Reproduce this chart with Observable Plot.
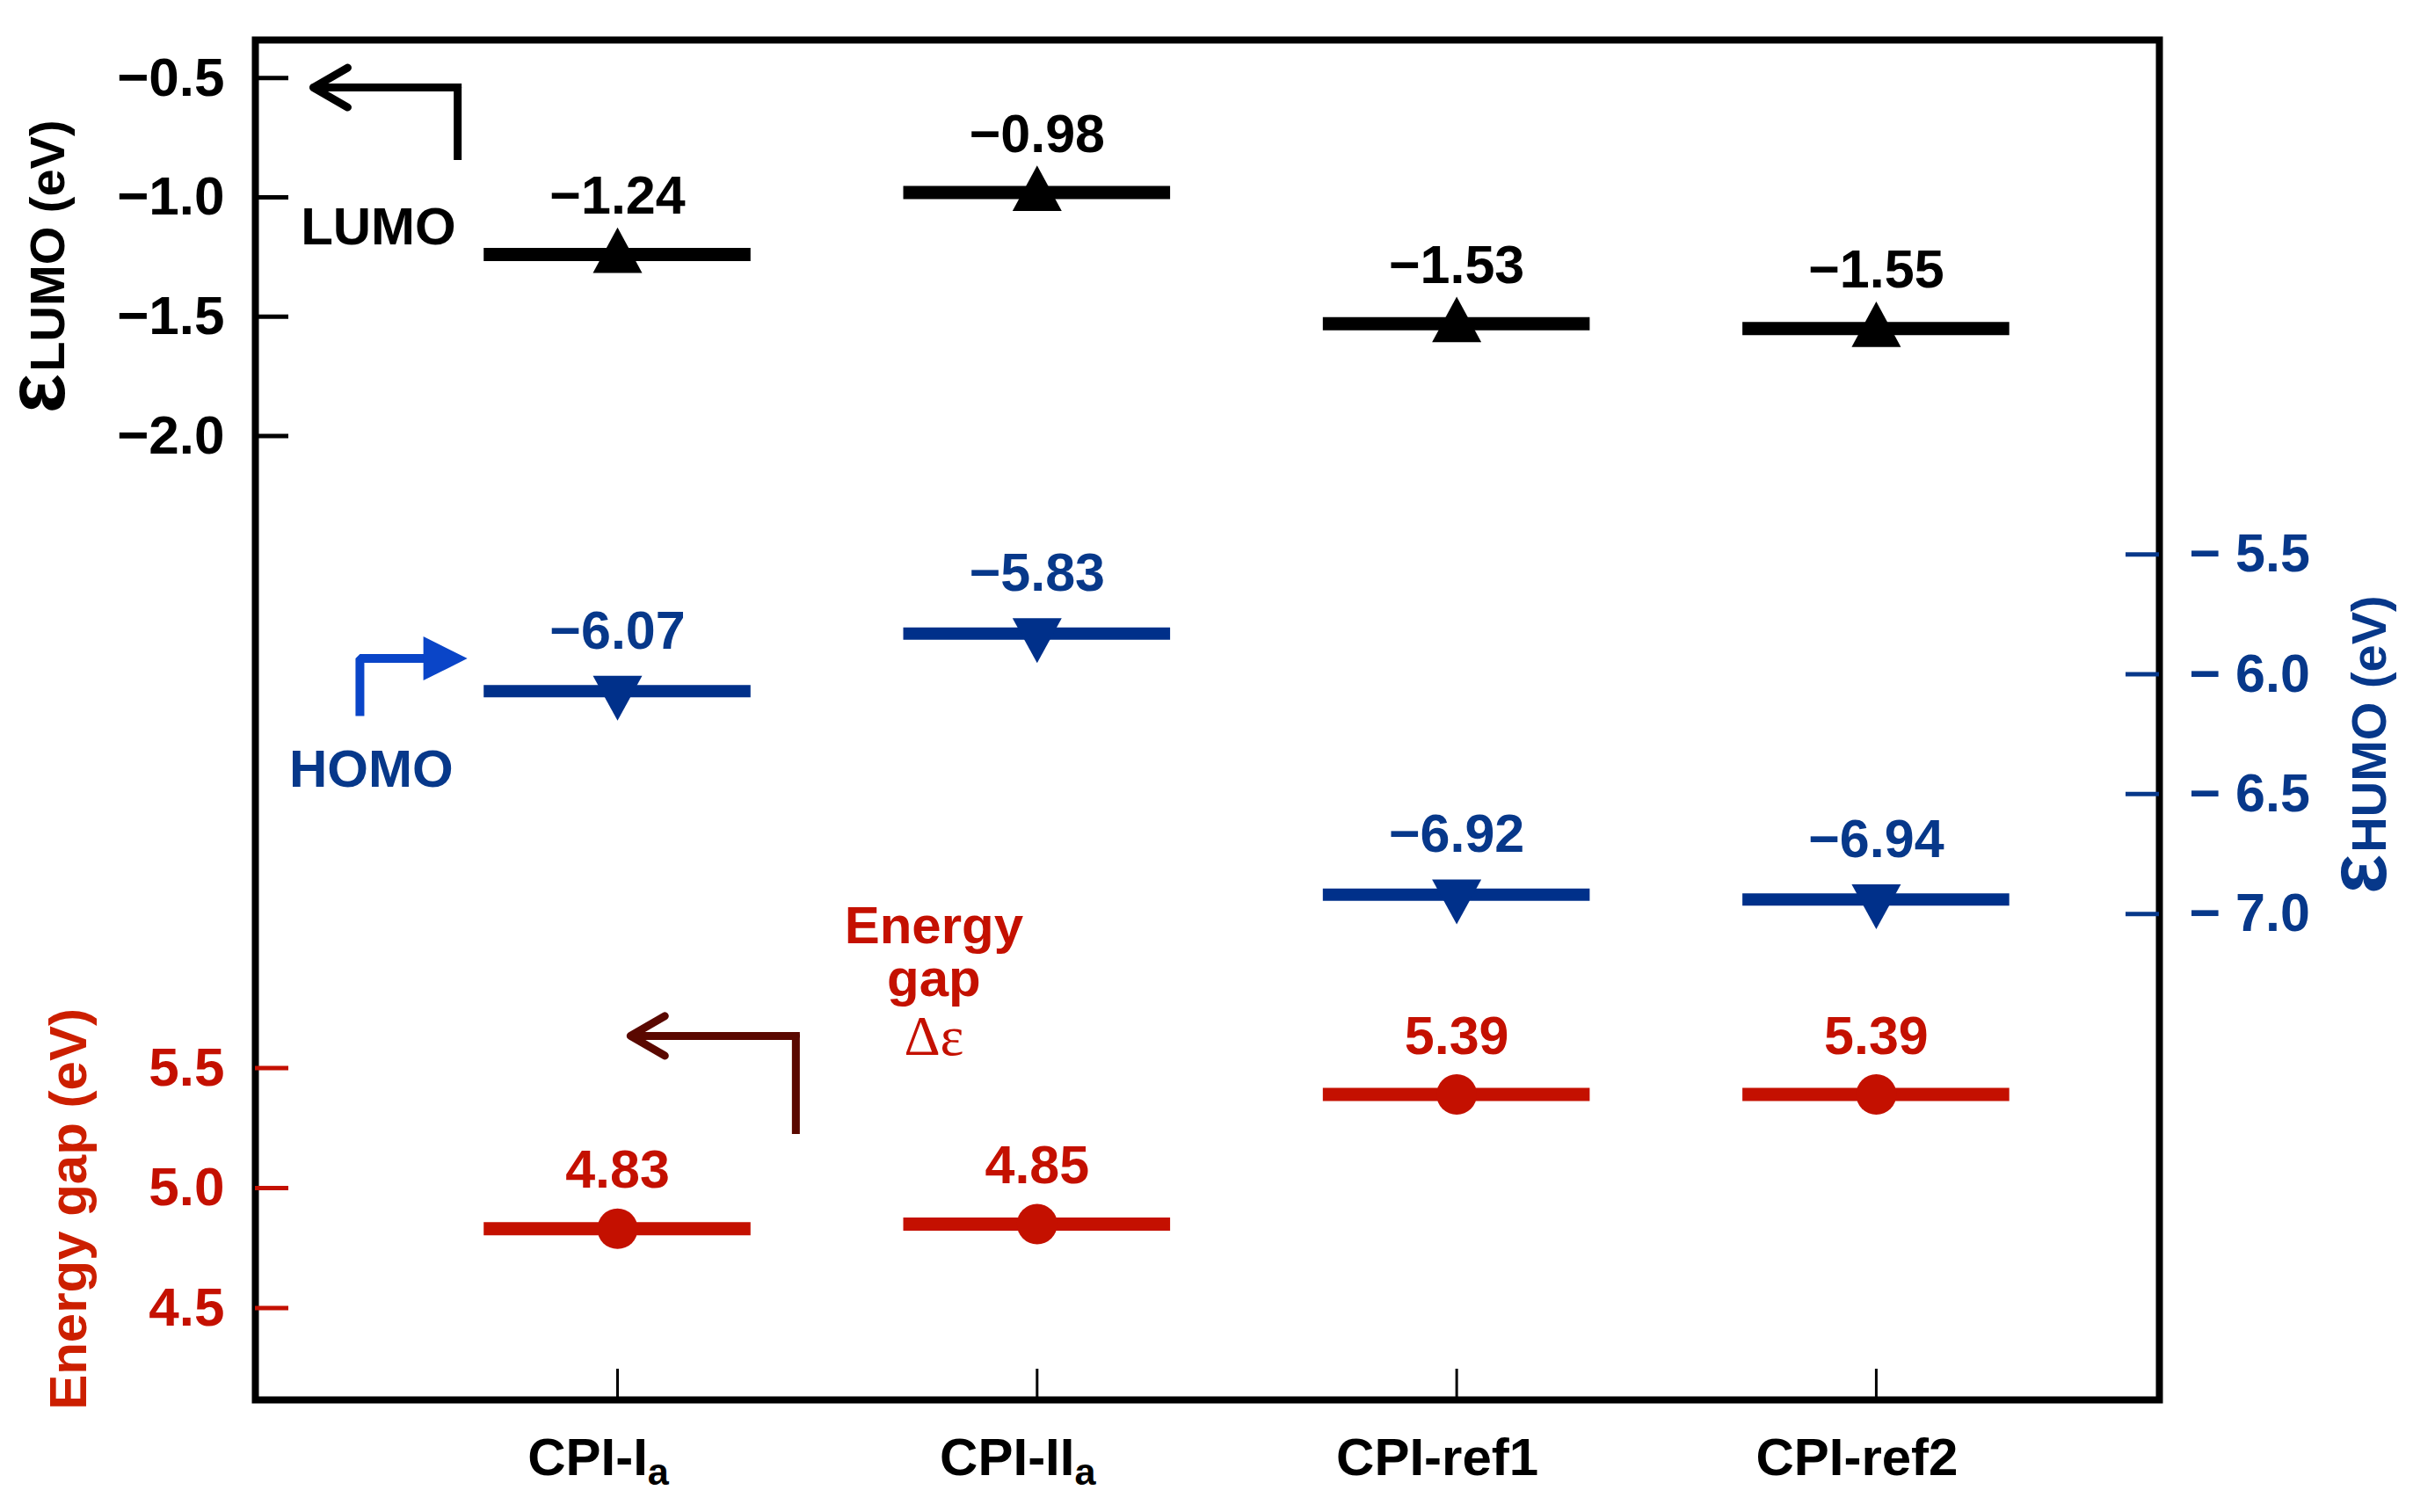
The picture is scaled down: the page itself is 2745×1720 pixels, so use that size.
<!DOCTYPE html>
<html><head><meta charset="utf-8">
<script src="https://cdn.jsdelivr.net/npm/d3@7"></script>
<script src="https://cdn.jsdelivr.net/npm/@observablehq/plot@0.6"></script>
<style>
html,body{margin:0;padding:0;background:#fff;}
#chart{position:relative;width:2745px;height:1720px;}
#chart svg{position:absolute;left:0;top:0;background:transparent;overflow:visible;}
</style></head><body><div id="chart"></div>
<script>
// ---- data ----
const categories = ["CPI-I_a", "CPI-II_a", "CPI-ref1", "CPI-ref2"];
const lumo = [-1.24, -0.98, -1.53, -1.55];
const homo = [-6.07, -5.83, -6.92, -6.94];
const gap = [4.83, 4.85, 5.39, 5.39];
const lumoTicks = [-0.5, -1.0, -1.5, -2.0];
const homoTicks = [-5.5, -6.0, -6.5, -7.0];
const gapTicks = [4.5, 5.0, 5.5];

// ---- build ----
const idx = categories.map((_, i) => i);
const rows = categories.map((c, i) => ({i, c, lumo: lumo[i], homo: homo[i], gap: gap[i]}));
const minus = s => s.replace("-", "\u2212");

const BLACK = "#000", BLUE = "#00308a", BLUE_T = "#07388a", BLUE_ARROW = "#0a45c8";
const RED = "#c41000", RED_T = "#cc1f00", RED_ARROW = "#5a0800";
const HALF = 0.318;
const FONT = "'Liberation Sans', Arial, Helvetica, sans-serif";

const triUp = {draw(ctx, size) {const r = Math.sqrt(size / Math.PI);
  ctx.moveTo(0, -1.1 * r); ctx.lineTo(r, 0.75 * r); ctx.lineTo(-r, 0.75 * r); ctx.closePath();}};
const triDown = {draw(ctx, size) {const r = Math.sqrt(size / Math.PI);
  ctx.moveTo(0, 1.2 * r); ctx.lineTo(r, -0.62 * r); ctx.lineTo(-r, -0.62 * r); ctx.closePath();}};
const triRight = {draw(ctx, size) {const r = Math.sqrt(size / Math.PI);
  ctx.moveTo(0, 0); ctx.lineTo(-2 * r, -r); ctx.lineTo(-2 * r, r); ctx.closePath();}};

const common = {
  width: 2745, height: 1720,
  marginLeft: 290, marginRight: 289, marginTop: 45, marginBottom: 128,
  style: {background: "transparent", fontFamily: FONT, fontWeight: "bold", overflow: "visible"}
};
const xScale = {domain: [-0.8632, 3.6748], axis: null};

// LUMO layer (with frame and category axis)
const lumoPlot = Plot.plot({
  ...common,
  x: xScale,
  y: {domain: [-6.039, -0.341], axis: null},
  marks: [
    Plot.frame({stroke: BLACK, strokeWidth: 8}),
    Plot.ruleY(lumoTicks, {stroke: BLACK, strokeWidth: 5, insetRight: 2128}),
    Plot.axisY({ticks: lumoTicks, tickSize: 0, tickPadding: 35, tickFormat: d => minus(d.toFixed(1)),
      fontSize: 62, fill: BLACK, label: null}),
    Plot.ruleX(idx, {stroke: BLACK, strokeWidth: 3, insetTop: 1512}),
    Plot.axisX({ticks: idx, tickSize: 0, tickPadding: 43, tickFormat: i => categories[i],
      fontSize: 60, fill: BLACK, label: null, dx: -22}),
    Plot.ruleY(rows, {y: "lumo", x1: d => d.i - HALF, x2: d => d.i + HALF, stroke: BLACK, strokeWidth: 15}),
    Plot.dot(rows, {x: "i", y: "lumo", symbol: triUp, r: 28, fill: BLACK, stroke: null}),
    Plot.text(rows, {x: "i", y: "lumo", text: d => minus(d.lumo.toFixed(2)), dy: -66, fontSize: 61, fill: BLACK}),
    // annotation: LUMO arrow + label
    Plot.line([[-0.381, -0.827], [-0.381, -0.54]], {x: d => d[0], y: d => d[1], stroke: BLACK, strokeWidth: 9, strokeLinecap: "square"}),
    Plot.arrow([0], {x1: -0.381, y1: -0.54, x2: -0.725, y2: -0.54, stroke: BLACK, strokeWidth: 9,
      headLength: 7.5, headAngle: 60, strokeLinecap: "round", strokeLinejoin: "round"}),
    Plot.text(["LUMO"], {x: -0.57, y: -1.126, fontSize: 60, fill: BLACK}),
    // axis title
    Plot.text(["ε"], {frameAnchor: "left", y: -1.822, dx: -218, rotate: -90, textAnchor: "middle", lineAnchor: "bottom", fontSize: 95, fill: BLACK}),
    Plot.text(["LUMO (eV)"], {frameAnchor: "left", y: -1.203, dx: -218, rotate: -90, textAnchor: "middle", lineAnchor: "bottom", fontSize: 56, fill: BLACK})
  ]
});

// HOMO layer (right axis)
const homoPlot = Plot.plot({
  ...common,
  x: xScale,
  y: {domain: [-9.028, -3.353], axis: null},
  marks: [
    Plot.ruleY(homoTicks, {stroke: BLUE_T, strokeWidth: 5, insetLeft: 2128}),
    Plot.axisY({anchor: "right", ticks: homoTicks, tickSize: 0, tickPadding: 34,
      tickFormat: d => "\u2212 " + Math.abs(d).toFixed(1), fontSize: 61, fill: BLUE_T, label: null}),
    Plot.ruleY(rows, {y: "homo", x1: d => d.i - HALF, x2: d => d.i + HALF, stroke: BLUE, strokeWidth: 14}),
    Plot.dot(rows, {x: "i", y: "homo", symbol: triDown, r: 28, fill: BLUE, stroke: null}),
    Plot.text(rows, {x: "i", y: "homo", text: d => minus(d.homo.toFixed(2)), dy: -68, fontSize: 61, fill: BLUE_T}),
    // annotation: HOMO arrow + label
    Plot.line([[-0.614, -6.174], [-0.614, -5.934], [-0.44, -5.934]], {x: d => d[0], y: d => d[1],
      stroke: BLUE_ARROW, strokeWidth: 10, strokeLinejoin: "miter", strokeLinecap: "butt"}),
    Plot.dot([0], {x: -0.358, y: -5.934, symbol: triRight, r: 25, fill: BLUE_ARROW, stroke: null}),
    Plot.text(["HOMO"], {x: -0.587, y: -6.40, fontSize: 60, fill: BLUE_T}),
    // axis title
    Plot.text(["ε"], {frameAnchor: "right", y: -6.834, dx: 257, rotate: -90, textAnchor: "middle", lineAnchor: "bottom", fontSize: 95, fill: BLUE_T}),
    Plot.text(["HUMO (eV)"], {frameAnchor: "right", y: -6.207, dx: 257, rotate: -90, textAnchor: "middle", lineAnchor: "bottom", fontSize: 56, fill: BLUE_T})
  ]
});

// Energy gap layer (lower-left axis)
const gapPlot = Plot.plot({
  ...common,
  x: xScale,
  y: {domain: [4.117, 9.784], axis: null},
  marks: [
    Plot.ruleY(gapTicks, {stroke: RED, strokeWidth: 5, insetRight: 2128}),
    Plot.axisY({ticks: gapTicks, tickSize: 0, tickPadding: 35, tickFormat: d => d.toFixed(1),
      fontSize: 62, fill: RED, label: null}),
    Plot.ruleY(rows, {y: "gap", x1: d => d.i - HALF, x2: d => d.i + HALF, stroke: RED, strokeWidth: 15}),
    Plot.dot(rows, {x: "i", y: "gap", r: 23, fill: RED, stroke: null}),
    Plot.text(rows, {x: "i", y: "gap", text: d => d.gap.toFixed(2), dy: -66, fontSize: 61, fill: RED}),
    // annotation: gap arrow + label
    Plot.line([[0.425, 5.242], [0.425, 5.634]], {x: d => d[0], y: d => d[1], stroke: RED_ARROW, strokeWidth: 9, strokeLinecap: "square"}),
    Plot.arrow([0], {x1: 0.425, y1: 5.634, x2: 0.031, y2: 5.634, stroke: RED_ARROW, strokeWidth: 9,
      headLength: 7.5, headAngle: 60, strokeLinecap: "round", strokeLinejoin: "round"}),
    Plot.text(["Energy\ngap"], {x: 0.754, y: 6.176, lineAnchor: "top", lineHeight: 1, fontSize: 60, fill: RED}),
    Plot.text(["Δε"], {x: 0.754, y: 5.553, lineAnchor: "bottom", fontSize: 64, fill: RED,
      fontFamily: "'Liberation Serif', 'Times New Roman', serif", fontWeight: "normal"}),
    // axis title
    Plot.text(["Energy gap (eV)"], {frameAnchor: "left", y: 4.912, dx: -212, rotate: -90, textAnchor: "middle", lineAnchor: "middle", fontSize: 60, fill: RED_T})
  ]
});

// subscripts in category labels (e.g. CPI-I_a -> CPI-I with subscript a)
d3.select(lumoPlot).selectAll("text").each(function () {
  const t = this.textContent;
  if (!t.includes("_")) return;
  const [main, sub] = t.split("_");
  this.textContent = main;
  d3.select(this).append("tspan").attr("font-size", "0.72em").attr("dy", "0.25em").text(sub);
});

const chart = document.getElementById("chart");
chart.appendChild(lumoPlot);
chart.appendChild(homoPlot);
chart.appendChild(gapPlot);
</script></body></html>
